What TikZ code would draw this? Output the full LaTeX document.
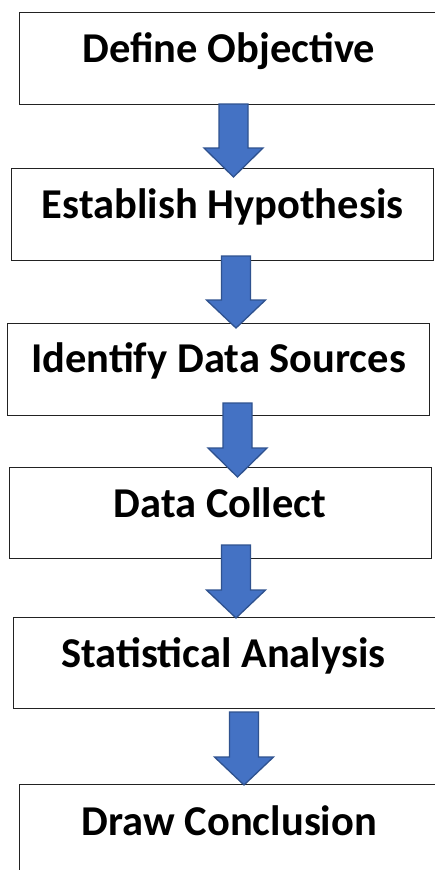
\documentclass[tikz,border=0pt]{standalone}
\usepackage{fontspec}
\setmainfont{Carlito}
\definecolor{arrowfill}{HTML}{4472C4}
\definecolor{arrowline}{HTML}{2F528F}
\definecolor{boxline}{HTML}{222222}
\begin{document}
\begin{tikzpicture}[x=1pt,y=-1pt,
  stepbox/.style={draw=boxline,line width=1.2pt,fill=white,rectangle,inner sep=0pt,anchor=north west},
  steptext/.style={anchor=base,inner sep=0pt,font=\fontsize{42.5}{48}\selectfont\bfseries},
  blockarrow/.style={fill=arrowfill,draw=arrowline,line width=1.3pt,line join=miter}]
\useasboundingbox (0,0) rectangle (434,870);
\fill[white] (0,0) rectangle (434,870);
% boxes
\node[stepbox,minimum width=430pt,minimum height=92pt] (b1) at (19,12) {};
\node[stepbox,minimum width=422pt,minimum height=92pt] (b2) at (11,168) {};
\node[stepbox,minimum width=422pt,minimum height=92pt] (b3) at (7,323) {};
\node[stepbox,minimum width=422pt,minimum height=91pt] (b4) at (9,467) {};
\node[stepbox,minimum width=430pt,minimum height=91pt] (b5) at (13,617) {};
\node[stepbox,minimum width=430pt,minimum height=100pt] (b6) at (19,784) {};
% texts
\node[steptext] (t1) at (229,62) {Define Objective};
\node[steptext] (t2) at (222.5,218) {Establish Hypothesis};
\node[steptext] (t3) at (218.5,372) {Identify Data Sources};
\node[steptext] (t4) at (220,517) {Data Collect};
\node[steptext] (t5) at (223.5,667) {Statistical Analysis};
\node[steptext] (t6) at (229.5,835) {Draw Conclusion};
% block arrows: center x, top, head start, tip
\foreach \cx/\top/\hs/\tip in {233.5/104/148/177, 236/256/300/328, 237.5/403/448/477, 236/545/590/618, 244/712/757/785}{
  \draw[blockarrow] (\cx-14.5,\top) -- (\cx+14.5,\top) -- (\cx+14.5,\hs) -- (\cx+29.5,\hs)
    -- (\cx,\tip) -- (\cx-29.5,\hs) -- (\cx-14.5,\hs) -- cycle;
}
\end{tikzpicture}
\end{document}
